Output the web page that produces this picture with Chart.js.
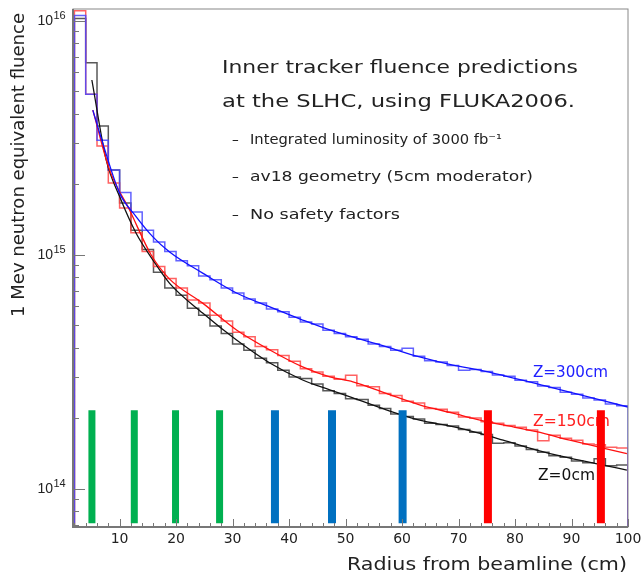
<!DOCTYPE html>
<html>
<head>
<meta charset="utf-8">
<script src="https://cdn.jsdelivr.net/npm/chart.js@4.4.1/dist/chart.umd.min.js"></script>
<style>
  html, body { margin: 0; padding: 0; background: #fff; }
</style>
</head>
<body>
<canvas id="fluenceChart" width="643" height="578"></canvas>
<script>
// Radius bins (cm), 2 cm wide, lower edges; last bin closes at 100 cm
const binEdges = [2, 4, 6, 8, 10, 12, 14, 16, 18, 20, 22, 24, 26, 28, 30, 32, 34, 36, 38, 40,
                  42, 44, 46, 48, 50, 52, 54, 56, 58, 60, 62, 64, 66, 68, 70, 72, 74, 76, 78, 80,
                  82, 84, 86, 88, 90, 92, 94, 96, 98];

// FLUKA fluence per bin, 1 MeV n-eq / cm^2
const fluenceZ300 = [1.05e16, 4.84e15, 3.08e15, 2.30e15, 1.84e15, 1.52e15, 1.27e15, 1.13e15, 1.03e15, 9.40e14,
                     8.95e14, 8.10e14, 7.80e14, 7.20e14, 6.85e14, 6.45e14, 6.20e14, 5.85e14, 5.70e14, 5.40e14,
                     5.15e14, 5.05e14, 4.75e14, 4.60e14, 4.45e14, 4.35e14, 4.15e14, 4.05e14, 3.90e14, 3.98e14,
                     3.68e14, 3.52e14, 3.47e14, 3.36e14, 3.20e14, 3.23e14, 3.16e14, 3.06e14, 3.02e14, 2.90e14,
                     2.86e14, 2.74e14, 2.70e14, 2.58e14, 2.53e14, 2.44e14, 2.39e14, 2.30e14, 2.26e14];
const fluenceZ150 = [1.10e16, 4.84e15, 2.91e15, 2.02e15, 1.58e15, 1.24e15, 1.03e15, 8.90e14, 7.90e14, 7.20e14,
                     6.40e14, 6.20e14, 5.50e14, 5.20e14, 4.65e14, 4.45e14, 4.05e14, 3.92e14, 3.70e14, 3.50e14,
                     3.25e14, 3.15e14, 3.02e14, 2.93e14, 3.05e14, 2.75e14, 2.72e14, 2.55e14, 2.50e14, 2.36e14,
                     2.32e14, 2.20e14, 2.18e14, 2.12e14, 2.02e14, 2.00e14, 1.93e14, 1.90e14, 1.86e14, 1.83e14,
                     1.78e14, 1.60e14, 1.69e14, 1.64e14, 1.61e14, 1.55e14, 1.54e14, 1.50e14, 1.49e14];
const fluenceZ0   = [1.02e16, 6.60e15, 3.54e15, 2.30e15, 1.66e15, 1.27e15, 1.05e15, 8.40e14, 7.20e14, 6.70e14,
                     5.90e14, 5.50e14, 4.95e14, 4.60e14, 4.15e14, 3.90e14, 3.60e14, 3.45e14, 3.20e14, 3.00e14,
                     2.95e14, 2.80e14, 2.62e14, 2.55e14, 2.42e14, 2.40e14, 2.27e14, 2.20e14, 2.08e14, 2.03e14,
                     1.98e14, 1.90e14, 1.88e14, 1.85e14, 1.79e14, 1.74e14, 1.70e14, 1.56e14, 1.57e14, 1.52e14,
                     1.47e14, 1.43e14, 1.38e14, 1.36e14, 1.31e14, 1.29e14, 1.34e14, 1.25e14, 1.26e14];

// Fitted curves, sampled along radius
const fitRadiusZ300 = [5.26, 7.0, 10.0, 12.95, 15.9, 18.85, 24.7, 30.7, 36.6, 42.4, 47.2, 57.3, 63.1, 69.0, 73.8, 86.2, 100];
const fitZ300       = [4.14e15, 3.0e15, 1.83e15, 1.45e15, 1.19e15, 1.025e15, 8.33e14, 6.85e14, 5.97e14, 5.25e14,
                       4.76e14, 4.03e14, 3.65e14, 3.37e14, 3.21e14, 2.71e14, 2.23e14];
const fitRadiusZ150 = [5.26, 8.22, 11.76, 15.6, 18.85, 24.7, 30.7, 36.6, 42.4, 47.2, 51.3, 57.2, 63.1, 69.0,
                       73.8, 77.9, 83.8, 89.7, 95.6, 99.8];
const fitZ150       = [4.14e15, 2.30e15, 1.55e15, 9.95e14, 7.85e14, 6.20e14, 4.76e14, 3.91e14, 3.31e14, 3.00e14,
                       2.86e14, 2.55e14, 2.28e14, 2.10e14, 1.96e14, 1.87e14, 1.75e14, 1.61e14, 1.49e14, 1.41e14];
const fitRadiusZ0   = [5.09, 7.64, 10.0, 12.95, 15.9, 18.85, 24.7, 30.7, 36.6, 42.4, 47.2, 51.3, 57.2, 63.1,
                       69.0, 73.8, 77.9, 83.8, 89.7, 95.6, 99.8];
const fitZ0         = [5.57e15, 2.53e15, 1.77e15, 1.23e15, 9.47e14, 7.53e14, 5.62e14, 4.31e14, 3.44e14, 2.91e14,
                       2.64e14, 2.44e14, 2.17e14, 1.96e14, 1.84e14, 1.72e14, 1.61e14, 1.46e14, 1.35e14, 1.26e14, 1.20e14];

// Detector layer radii (cm)
const pixelLayers = [5.1, 12.6, 19.9, 27.7];
const shortStripLayers = [37.5, 47.6, 60.1];
const longStripLayers = [75.2, 95.2];
const layerBottom = 7.1e13;
const layerTop = 2.16e14;

// Axes
const X_MIN = 1.75, X_MAX = 100;
const Y_MIN = 6.85e13, Y_MAX = 1.12e16;
const xTickLabels = [10, 20, 30, 40, 50, 60, 70, 80, 90, 100];
const yDecadeExponents = [14, 15, 16];

const FONT = '"DejaVu Sans", sans-serif';
const FLOOR = 1e13;

function histPoints(values) {
    const pts = [{ x: binEdges[0], y: FLOOR }];
    values.forEach((v, i) => pts.push({ x: binEdges[i], y: v }));
    pts.push({ x: X_MAX, y: values[values.length - 1] });
    pts.push({ x: X_MAX, y: FLOOR });
    return pts;
}

function curvePoints(radii, values) {
    return radii.map((r, i) => ({ x: r, y: values[i] }));
}

function layerPoints(radii) {
    const pts = [];
    radii.forEach(r => {
        pts.push({ x: r, y: layerBottom }, { x: r, y: layerTop }, { x: r, y: null });
    });
    return pts;
}

function layerSet(radii, color, width) {
    return {
        data: layerPoints(radii),
        borderColor: color,
        borderWidth: width,
        borderCapStyle: 'butt',
        spanGaps: false,
        pointRadius: 0,
    };
}

function histSet(values, color) {
    return {
        data: histPoints(values),
        borderColor: color,
        borderWidth: 1.5,
        stepped: 'before',   // hold each bin value until the next edge
        pointRadius: 0,
    };
}

function fitSet(radii, values, color) {
    return {
        data: curvePoints(radii, values),
        borderColor: color,
        borderWidth: 1.3,
        cubicInterpolationMode: 'monotone',
        pointRadius: 0,
    };
}

// stretch a string horizontally so it spans the given width
function wideText(c, text, x, y, width) {
    const w = c.measureText(text).width;
    c.save();
    c.translate(x, y);
    c.scale(width / w, 1);
    c.fillText(text, 0, 0);
    c.restore();
}

// ROOT-style frame: ticks inside, labels and annotations drawn by hand
const rootFrame = {
    id: 'rootFrame',
    beforeDatasetsDraw(chart) {
        const c = chart.ctx;
        c.save();
        c.fillStyle = '#222';
        c.textBaseline = 'middle';
        c.textAlign = 'left';
        c.font = '18px ' + FONT;
        wideText(c, 'Inner tracker fluence predictions', 222, 68, 356);
        wideText(c, 'at the SLHC, using FLUKA2006.', 222, 102, 353);

        c.font = '13.5px ' + FONT;
        const bullets = ['Integrated luminosity of 3000 fb\u207B\u00B9',
                         'av18 geometry (5cm moderator)',
                         'No safety factors'];
        const bulletY = [140, 177, 215];
        const bulletW = [252, 283, 150];
        bullets.forEach((t, i) => {
            c.fillText('\u2013', 232, bulletY[i]);
            wideText(c, t, 250, bulletY[i], bulletW[i]);
        });

        c.font = '15px ' + FONT;
        c.fillStyle = '#2020ff';
        wideText(c, 'Z=300cm', 533, 373, 75);
        c.fillStyle = '#ff2020';
        wideText(c, 'Z=150cm', 533, 422, 77);
        c.fillStyle = '#111';
        wideText(c, 'Z=0cm', 538, 476, 57);
        c.restore();
    },
    afterDatasetsDraw(chart) {
        const c = chart.ctx;
        const a = chart.chartArea;
        const xs = chart.scales.x;
        const ys = chart.scales.y;
        c.save();

        // frame
        c.strokeStyle = '#888';
        c.lineWidth = 1;
        c.strokeRect(a.left, a.top, a.right - a.left, a.bottom - a.top);
        c.strokeStyle = '#777';
        c.lineWidth = 2;
        c.beginPath();
        c.moveTo(a.left, a.top);
        c.lineTo(a.left, a.bottom);
        c.lineTo(a.right, a.bottom);
        c.stroke();

        // x ticks, pointing up into the frame
        c.lineWidth = 1;
        c.beginPath();
        for (let v = 2; v <= X_MAX; v += 2) {
            const px = Math.round(xs.getPixelForValue(v)) + 0.5;
            const len = v % 10 === 0 ? 8 : 4;
            c.moveTo(px, a.bottom);
            c.lineTo(px, a.bottom - len);
        }
        // y ticks on the log axis
        for (let e = 13; e <= 16; e++) {
            for (let m = 1; m <= 9; m++) {
                const v = m * Math.pow(10, e);
                if (v < Y_MIN || v > Y_MAX) continue;
                const py = Math.round(ys.getPixelForValue(v)) + 0.5;
                const len = m === 1 ? 12 : 6;
                c.moveTo(a.left, py);
                c.lineTo(a.left + len, py);
            }
        }
        c.stroke();

        // tick labels
        c.fillStyle = '#222';
        c.textBaseline = 'middle';
        c.textAlign = 'center';
        c.font = '14px ' + FONT;
        xTickLabels.forEach(v => {
            c.fillText(String(v), xs.getPixelForValue(v), 539);
        });
        yDecadeExponents.forEach(e => {
            const py = ys.getPixelForValue(Math.pow(10, e));
            c.textAlign = 'right';
            c.font = '14px "Liberation Sans", sans-serif';
            c.fillText('10', 53, py + 1);
            c.textAlign = 'left';
            c.font = '11px "Liberation Sans", sans-serif';
            c.fillText(String(e), 53.5, py - 5);
        });

        // axis titles
        c.textAlign = 'left';
        c.font = '18px ' + FONT;
        wideText(c, 'Radius from beamline (cm)', 347, 565, 280);
        c.translate(20, 317);
        c.rotate(-Math.PI / 2);
        c.font = '17px ' + FONT;
        wideText(c, '1 Mev neutron equivalent fluence', 0, 0, 304);
        c.restore();
    }
};

new Chart(document.getElementById('fluenceChart'), {
    type: 'line',
    data: {
        datasets: [
            layerSet(pixelLayers, '#00b050', 7),
            layerSet(shortStripLayers, '#0070c0', 8),
            layerSet(longStripLayers, '#ff0000', 8),
            fitSet(fitRadiusZ300, fitZ300, '#1010ff'),
            fitSet(fitRadiusZ150, fitZ150, '#ff1010'),
            fitSet(fitRadiusZ0, fitZ0, '#111111'),
            histSet(fluenceZ300, 'rgba(70, 70, 255, 0.85)'),
            histSet(fluenceZ150, 'rgba(255, 70, 70, 0.85)'),
            histSet(fluenceZ0, 'rgba(60, 60, 60, 0.85)'),
        ]
    },
    options: {
        responsive: false,
        animation: false,
        devicePixelRatio: 1,
        layout: { padding: { left: 73, right: 15, top: 9, bottom: 51 } },
        plugins: { legend: { display: false }, tooltip: { enabled: false } },
        scales: {
            x: { type: 'linear', min: X_MIN, max: X_MAX, display: false },
            y: { type: 'logarithmic', min: Y_MIN, max: Y_MAX, display: false }
        }
    },
    plugins: [rootFrame]
});
</script>
</body>
</html>
